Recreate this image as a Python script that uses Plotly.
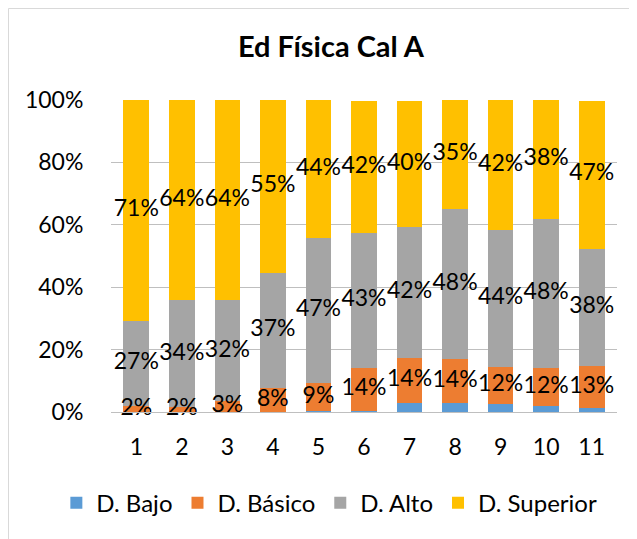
import plotly.graph_objects as go

categories = ["1", "2", "3", "4", "5", "6", "7", "8", "9", "10", "11"]
series_names = ["D. Bajo", "D. Básico", "D. Alto", "D. Superior"]
bajo = [0, 0, 0, 0, 0.4, 0.4, 3.0, 2.8, 2.6, 2.0, 1.3]
basico = [1.9, 1.5, 3.4, 7.6, 8.8, 13.6, 14.3, 14.2, 11.8, 12.1, 13.4]
alto = [27.2, 34.3, 32.4, 37.0, 46.7, 43.4, 42.0, 48.2, 43.9, 47.8, 37.7]
superior = [70.9, 64.2, 64.2, 55.4, 44.1, 42.4, 40.4, 34.8, 41.7, 38.1, 47.4]
y_ticks = [0, 20, 40, 60, 80, 100]
y_tick_labels = ["0%", "20%", "40%", "60%", "80%", "100%"]
title_text = "Ed Física Cal A"

colors = ["#5B9BD5", "#ED7D31", "#A5A5A5", "#FFC000"]
FONT = "Lato"
series = [bajo, basico, alto, superior]

fig = go.Figure()
for name, vals, col in zip(series_names, series, colors):
    fig.add_trace(go.Bar(x=categories, y=vals, name=name, marker=dict(color=col, line=dict(width=0))))

# data labels (Básico, Alto, Superior) at the middle of each segment
base = [0.0] * len(categories)
for idx, vals in enumerate(series):
    mids = [b + v / 2 for b, v in zip(base, vals)]
    if idx > 0:
        fig.add_trace(go.Scatter(
            x=categories, y=mids, mode="text",
            text=[f"{round(v):.0f}%" for v in vals],
            textposition="middle center",
            textfont=dict(family=FONT, size=23, color="#000000"),
            showlegend=False, hoverinfo="skip", cliponaxis=False))
    base = [b + v for b, v in zip(base, vals)]

fig.update_layout(
    template="none",
    barmode="stack",
    bargap=0.435,
    width=629, height=531,
    margin=dict(l=103, r=20, t=92, b=127, autoexpand=False),
    paper_bgcolor="white", plot_bgcolor="white",
    font=dict(family=FONT, size=23, color="#000000"),
    title=dict(text=f"<b>{title_text}</b>", x=0.5135, xref="container", y=0.9266, yref="container",
               xanchor="center", yanchor="middle", font=dict(family=FONT, size=29, color="#000000")),
    legend=dict(orientation="h", x=-0.108, y=-0.292, xanchor="left", yanchor="middle",
                font=dict(family=FONT, size=24, color="#000000"), traceorder="normal",
                itemclick=False, bgcolor="rgba(0,0,0,0)"),
    xaxis=dict(type="category", showgrid=False, showline=True, linecolor="#BFBFBF", linewidth=1,
               ticks="outside", ticklen=14, tickcolor="rgba(0,0,0,0)", automargin=False,
               tickfont=dict(family=FONT, size=23, color="#000000")),
    yaxis=dict(range=[0, 100], tickvals=y_ticks, ticktext=y_tick_labels, showgrid=True,
               gridcolor="#BFBFBF", gridwidth=1, zeroline=False, showline=False,
               ticks="outside", ticklen=22, tickcolor="rgba(0,0,0,0)", automargin=False,
               tickfont=dict(family=FONT, size=23, color="#000000")),
    showlegend=True,
)

# chart frame (left and top edges visible)
fig.add_shape(type="rect", xref="paper", yref="paper",
              x0=(0.5 - 103) / 506, x1=3, y0=-3, y1=1 + (92 - 0.5) / 312,
              line=dict(color="#D9D9D9", width=1), layer="below")

fig.write_html("out.html")
